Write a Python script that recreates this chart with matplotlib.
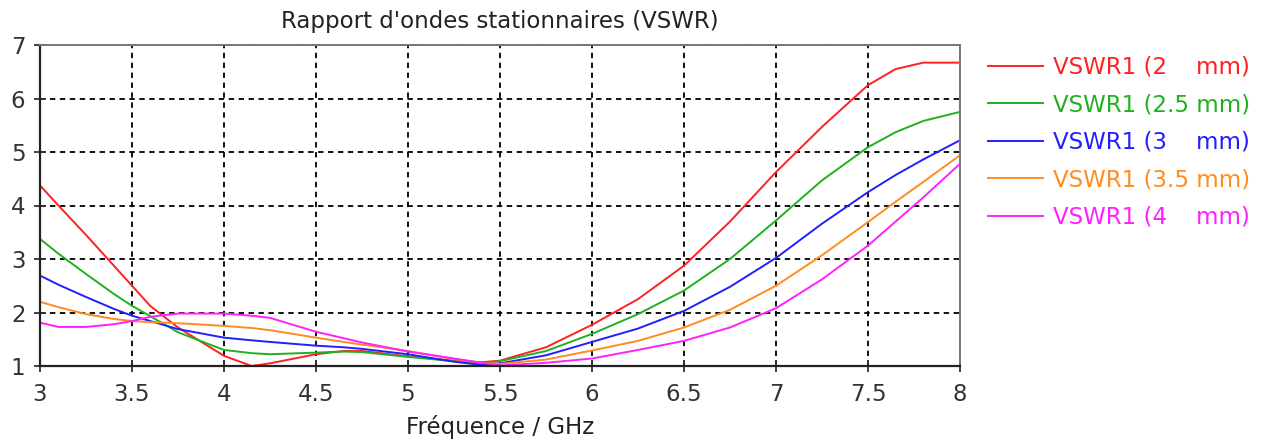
import matplotlib
matplotlib.use('Agg')
from matplotlib import pyplot as plt

# frequency grid (GHz) and VSWR
freq = [3, 3.1, 3.25, 3.4, 3.5, 3.6, 3.75, 4, 4.15, 4.25, 4.5, 4.65, 4.75, 5,
        5.25, 5.4, 5.5, 5.75, 6, 6.25, 6.5, 6.75, 7, 7.25, 7.5, 7.65, 7.8, 8]

vswr_2mm = [4.375, 4.0, 3.45, 2.88, 2.5, 2.12, 1.72, 1.19, 1.0, 1.05, 1.22, 1.28, 1.28, 1.18,
            1.1, 1.07, 1.1, 1.35, 1.77, 2.25, 2.875, 3.7, 4.625, 5.47, 6.25, 6.55, 6.67, 6.67]
vswr_2_5mm = [3.375, 3.1, 2.72, 2.35, 2.125, 1.93, 1.63, 1.3, 1.24, 1.22, 1.25, 1.27, 1.26, 1.17,
              1.09, 1.05, 1.09, 1.28, 1.6, 1.97, 2.41, 3.0, 3.72, 4.47, 5.09, 5.37, 5.58, 5.75]
vswr_3mm = [2.69, 2.52, 2.29, 2.07, 1.94, 1.84, 1.69, 1.53, 1.48, 1.45, 1.38, 1.35, 1.32, 1.22,
            1.08, 1.02, 1.05, 1.2, 1.45, 1.7, 2.03, 2.48, 3.02, 3.66, 4.25, 4.57, 4.86, 5.22]
vswr_3_5mm = [2.2, 2.1, 1.97, 1.88, 1.84, 1.82, 1.8, 1.75, 1.71, 1.67, 1.53, 1.45, 1.4, 1.28,
              1.13, 1.06, 1.04, 1.12, 1.29, 1.47, 1.72, 2.05, 2.5, 3.07, 3.69, 4.07, 4.44, 4.94]
vswr_4mm = [1.81, 1.73, 1.73, 1.78, 1.84, 1.92, 1.98, 1.98, 1.94, 1.9, 1.64, 1.52, 1.44, 1.27,
            1.14, 1.06, 1.01, 1.06, 1.14, 1.3, 1.47, 1.72, 2.08, 2.62, 3.25, 3.7, 4.15, 4.78]

labels = ['VSWR1 (2    mm)', 'VSWR1 (2.5 mm)', 'VSWR1 (3    mm)',
          'VSWR1 (3.5 mm)', 'VSWR1 (4    mm)']
colors = ['#ff2020', '#20b020', '#2020ff', '#ff8c20', '#ff20ff']
series = [vswr_2mm, vswr_2_5mm, vswr_3mm, vswr_3_5mm, vswr_4mm]

fs = 16.5

fig = plt.figure(figsize=(12.73, 4.45), dpi=100)
ax = fig.add_axes([40/1273, 1-366/445, 920/1273, 321/445])

for vals, c, lab in zip(series, colors, labels):
    ax.plot(freq, vals, color=c, linewidth=1.4, label=lab)

ax.set_xlim(3, 8)
ax.set_ylim(1, 7)
ax.set_xticks([3, 3.5, 4, 4.5, 5, 5.5, 6, 6.5, 7, 7.5, 8])
ax.set_xticklabels(['3', '3.5', '4', '4.5', '5', '5.5', '6', '6.5', '7', '7.5', '8'])
ax.set_yticks([1, 2, 3, 4, 5, 6, 7])

ax.grid(True, color='black', linestyle=(0, (3, 2.5)), linewidth=1.3)
ax.tick_params(direction='inout', length=9, width=1.3, labelsize=fs, colors='#333333')
ax.tick_params(axis='x', pad=7.5)
ax.tick_params(axis='y', pad=6)
for s in ['left', 'bottom']:
    ax.spines[s].set_color('#222222')
    ax.spines[s].set_linewidth(1.6)
for s in ['top', 'right']:
    ax.spines[s].set_color('#777777')
    ax.spines[s].set_linewidth(1.4)

ax.set_title("Rapport d'ondes stationnaires (VSWR)", fontsize=fs, color='#222222', pad=12)
ax.set_xlabel('Fréquence / GHz', fontsize=fs, color='#222222', labelpad=7)

fig.legend(loc='upper left', bbox_to_anchor=(988/1273, 1-56/445), frameon=False,
           fontsize=fs, labelcolor='linecolor', handlelength=2.4, handletextpad=0.45,
           labelspacing=0.63, borderpad=0, borderaxespad=0)

plt.savefig('out.png', dpi=100)
